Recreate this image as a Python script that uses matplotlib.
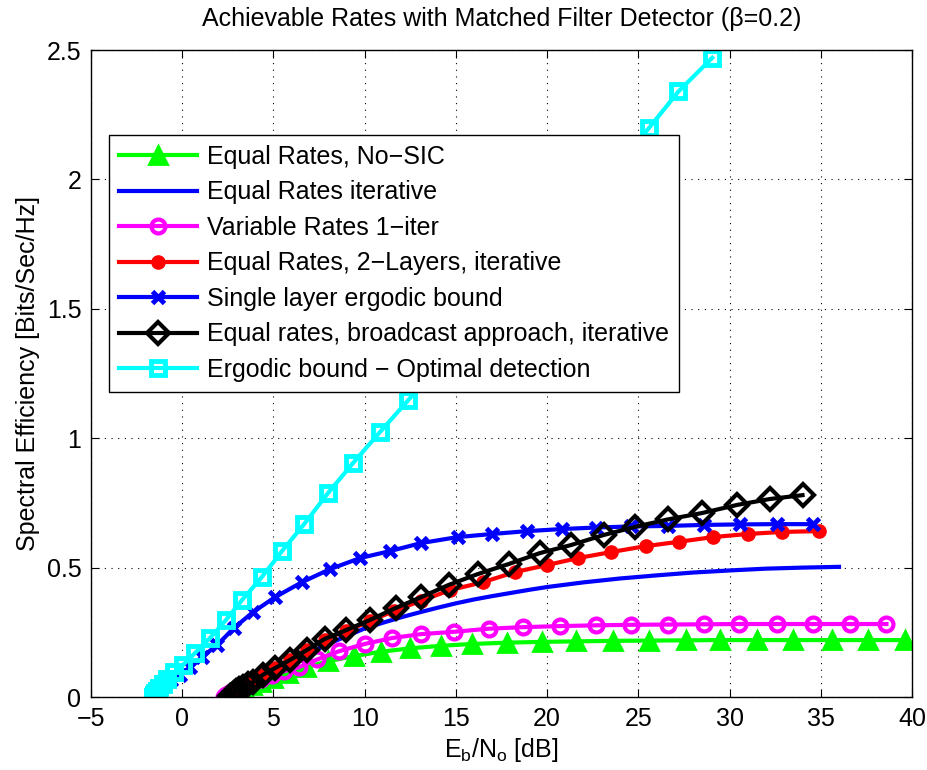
import matplotlib
matplotlib.use("Agg")
import matplotlib.pyplot as plt

plt.rcParams['font.family'] = ['Liberation Sans', 'DejaVu Sans']
plt.rcParams['mathtext.fontset'] = 'custom'
plt.rcParams['mathtext.rm'] = 'Liberation Sans'
plt.rcParams['mathtext.it'] = 'Liberation Sans'

title = "Achievable Rates with Matched Filter Detector (\u03b2=0.2)"
xlabel = r"E$_\mathrm{b}$/N$_\mathrm{o}$ [dB]"
ylabel = "Spectral Efficiency [Bits/Sec/Hz]"

xticks = [-5, 0, 5, 10, 15, 20, 25, 30, 35, 40]
xticklabels = ["\u22125", "0", "5", "10", "15", "20", "25", "30", "35", "40"]
yticks = [0, 0.5, 1, 1.5, 2, 2.5]
yticklabels = ["0", "0.5", "1", "1.5", "2", "2.5"]

labels = [
    "Equal Rates, No\u2212SIC",
    "Equal Rates iterative",
    "Variable Rates 1\u2212iter",
    "Equal Rates, 2\u2212Layers, iterative",
    "Single layer ergodic bound",
    "Equal rates, broadcast approach, iterative",
    "Ergodic bound \u2212 Optimal detection",
]

# Equal Rates, No-SIC (green triangles)
green_x = [2.53, 2.58, 2.65, 2.75, 2.9, 3.1, 3.4, 3.8, 4.3, 5.0, 5.8, 6.8, 8.0, 9.4,
           10.9, 12.5, 14.2, 15.9, 17.8, 19.7, 21.6, 23.6, 25.6, 27.6, 29.5, 31.5,
           33.5, 35.6, 37.6, 39.6]
green_y = [0.0, 0.003, 0.007, 0.012, 0.018, 0.025, 0.034, 0.045, 0.058, 0.075, 0.094,
           0.115, 0.138, 0.158, 0.175, 0.188, 0.198, 0.205, 0.21, 0.213, 0.215, 0.217,
           0.218, 0.219, 0.22, 0.22, 0.22, 0.22, 0.22, 0.22]

# Equal Rates iterative (blue solid)
blue_x = [2.6, 3.0, 3.5, 4.0, 5.0, 6.0, 7.0, 8.0, 9.0, 10.0, 11.0, 12.0, 13.0, 14.0,
          15.0, 16.0, 17.0, 18.0, 19.0, 20.0, 22.0, 24.0, 26.0, 28.0, 30.0, 32.0,
          34.0, 36.0]
blue_y = [0.0, 0.02, 0.04, 0.06, 0.1, 0.137, 0.172, 0.205, 0.235, 0.265, 0.287, 0.308,
          0.327, 0.345, 0.362, 0.377, 0.39, 0.402, 0.414, 0.425, 0.443, 0.458, 0.47,
          0.481, 0.489, 0.496, 0.5, 0.503]

# Variable Rates 1-iter (magenta circles)
mag_x = [2.3, 2.35, 2.42, 2.52, 2.65, 2.82, 3.05, 3.35, 3.75, 4.3, 4.9, 5.6, 6.4, 7.4,
         8.6, 10.0, 11.5, 13.1, 14.9, 16.8, 18.7, 20.7, 22.7, 24.6, 26.6, 28.6, 30.5,
         32.6, 34.6, 36.6, 38.6]
mag_y = [0.0, 0.003, 0.007, 0.012, 0.018, 0.025, 0.034, 0.045, 0.057, 0.07, 0.085, 0.1,
         0.115, 0.145, 0.177, 0.205, 0.228, 0.243, 0.252, 0.264, 0.27, 0.274, 0.277,
         0.279, 0.28, 0.281, 0.282, 0.282, 0.282, 0.282, 0.282]

# Equal Rates, 2-Layers, iterative (red dots)
red_x = [2.6, 2.65, 2.72, 2.82, 2.95, 3.12, 3.35, 3.62, 3.9, 4.4, 5.1, 5.9, 6.84, 7.8,
         9.0, 10.3, 11.6, 13.1, 14.68, 16.5, 18.25, 20.0, 21.7, 23.5, 25.4, 27.24,
         29.1, 31.0, 32.9, 34.9]
red_y = [0.002, 0.005, 0.009, 0.015, 0.022, 0.03, 0.04, 0.05, 0.058, 0.085, 0.112,
         0.143, 0.182, 0.222, 0.256, 0.293, 0.333, 0.372, 0.413, 0.444, 0.483, 0.51,
         0.537, 0.56, 0.583, 0.6, 0.618, 0.63, 0.638, 0.641]

# Single layer ergodic bound (blue x)
bx_x = [-1.59, -1.58, -1.55, -1.5, -1.4, -1.25, -1.0, -0.62, -0.12, 0.43, 1.09, 1.9,
        2.84, 3.88, 5.09, 6.57, 8.1, 9.75, 11.4, 13.1, 15.1, 17.0, 18.9, 20.8, 22.7,
        24.6, 26.6, 28.6, 30.6, 32.6, 34.6]
bx_y = [0.001, 0.003, 0.007, 0.013, 0.022, 0.035, 0.05, 0.066, 0.085, 0.116, 0.155,
        0.2, 0.267, 0.328, 0.386, 0.444, 0.494, 0.537, 0.564, 0.595, 0.618, 0.63,
        0.641, 0.649, 0.655, 0.659, 0.661, 0.665, 0.667, 0.668, 0.668]

# Equal rates, broadcast approach, iterative (black diamonds)
blk_x = [2.6, 2.65, 2.72, 2.82, 2.95, 3.12, 3.35, 3.62, 3.9, 4.4, 5.1, 5.9, 6.84, 7.8,
         9.0, 10.3, 11.7, 13.1, 14.6, 16.2, 17.9, 19.6, 21.3, 23.1, 24.8, 26.6, 28.5,
         30.4, 32.2, 34.0]
blk_y = [0.002, 0.005, 0.009, 0.015, 0.022, 0.03, 0.04, 0.05, 0.058, 0.085, 0.112,
         0.143, 0.182, 0.224, 0.259, 0.298, 0.344, 0.386, 0.433, 0.475, 0.514, 0.556,
         0.587, 0.626, 0.657, 0.686, 0.711, 0.742, 0.765, 0.78]

# Ergodic bound - Optimal detection (cyan squares)
cy_x = [-1.59, -1.585, -1.575, -1.56, -1.53, -1.48, -1.40, -1.27, -1.08, -0.82, -0.45,
        0.04, 0.7, 1.52, 2.4, 3.28, 4.37, 5.47, 6.68, 7.99, 9.36, 10.84, 12.4, 14.03,
        15.68, 17.33, 18.98, 20.63, 22.28, 23.93, 25.6, 27.2, 29.05]
cy_y = [0.0005, 0.001, 0.002, 0.004, 0.008, 0.014, 0.022, 0.034, 0.05, 0.07, 0.095,
        0.124, 0.17, 0.228, 0.298, 0.375, 0.464, 0.564, 0.668, 0.788, 0.904, 1.024,
        1.148, 1.28, 1.41, 1.54, 1.67, 1.80, 1.93, 2.06, 2.20, 2.34, 2.47]

fig = plt.figure(figsize=(9.27, 7.7), dpi=100)
ax = fig.add_axes([0.0982, 0.0948, 0.8856, 0.8402])

LW = 3.0
ax.plot(green_x, green_y, color=(0, 1, 0), lw=LW, marker='^', ms=13, mew=2,
        mfc=(0, 1, 0), mec=(0, 1, 0), label=labels[0])
ax.plot(blue_x, blue_y, color=(0, 0, 1), lw=LW, label=labels[1])
ax.plot(mag_x, mag_y, color=(1, 0, 1), lw=LW, marker='o', ms=10, mew=3,
        mfc='none', mec=(1, 0, 1), label=labels[2])
ax.plot(red_x, red_y, color=(1, 0, 0), lw=LW, marker='o', ms=9.5, mew=1,
        mfc=(1, 0, 0), mec=(1, 0, 0), label=labels[3])
ax.plot(bx_x, bx_y, color=(0, 0, 1), lw=LW, marker='x', ms=8, mew=3.5,
        mec=(0, 0, 1), label=labels[4])
ax.plot(blk_x, blk_y, color='black', lw=LW, marker='D', ms=11, mew=3,
        mfc='none', mec='black', label=labels[5])
ax.plot(cy_x, cy_y, color=(0, 1, 1), lw=LW, marker='s', ms=10, mew=3.5,
        mfc='none', mec=(0, 1, 1), label=labels[6])

ax.set_xlim(-5, 40)
ax.set_ylim(0, 2.5)
ax.set_xticks(xticks)
ax.set_xticklabels(xticklabels)
ax.set_yticks(yticks)
ax.set_yticklabels(yticklabels)
ax.tick_params(direction='in', length=6, width=0.8, top=True, right=True,
               labelsize=18, pad=7)
for sp in ax.spines.values():
    sp.set_linewidth(1.0)
ax.grid(True, color='black', linestyle=(0, (1, 5)), linewidth=0.8)

ax.set_title(title, fontsize=18, pad=17)
ax.set_xlabel(xlabel, fontsize=18, labelpad=4)
ax.set_ylabel(ylabel, fontsize=18, labelpad=5)

leg = ax.legend(loc='upper left', bbox_to_anchor=(0.022, 0.869), fontsize=18,
                numpoints=1, handlelength=3.1, handletextpad=0.4, borderpad=0.4,
                labelspacing=0.46, fancybox=False, framealpha=1, edgecolor='black',
                borderaxespad=0)
leg.get_frame().set_linewidth(1.0)

fig.savefig("out.png", dpi=100)
